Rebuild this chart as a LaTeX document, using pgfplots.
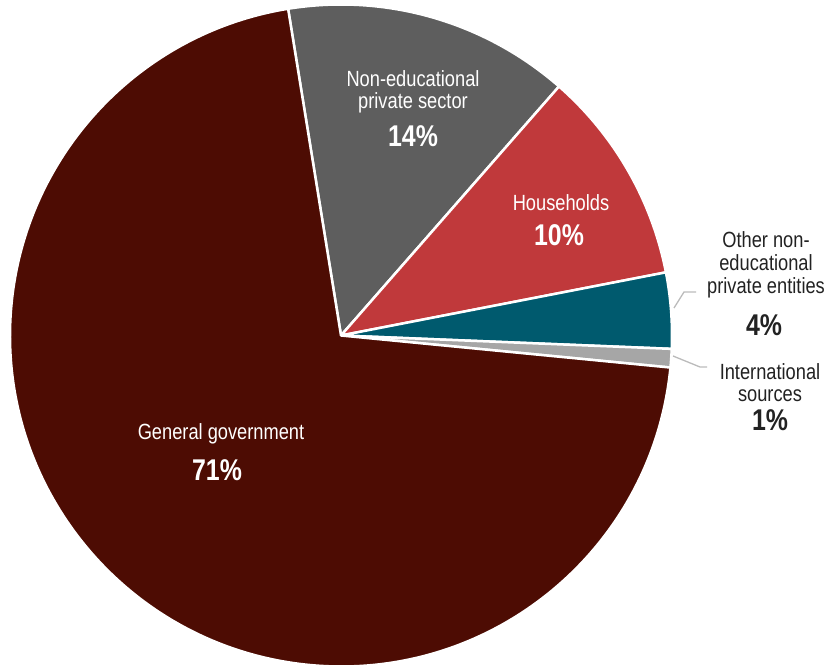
\documentclass[border=0pt]{standalone}
\usepackage{fontspec}
\setmainfont[FakeStretch=0.83]{Liberation Sans}
\usepackage{pgfplots}
\usepackage{pgfplotstable}
\pgfplotsset{compat=1.18}
\definecolor{cgov}{HTML}{4D0C03}
\definecolor{cnon}{HTML}{5E5E5E}
\definecolor{chh}{HTML}{C0393B}
\definecolor{coth}{HTML}{005A6E}
\definecolor{cint}{HTML}{A6A6A6}
\definecolor{ctxt}{HTML}{222222}
\definecolor{cline}{HTML}{BBBBBB}
\pgfplotstableread{
label value color
noned 14.0 cnon
hh 10.5 chh
oth 3.7 coth
intl 0.9 cint
gov 70.9 cgov
}\piedata
\begin{document}
\begin{tikzpicture}
\begin{axis}[x=1pt, y=1pt, xmin=0, xmax=829, ymin=0, ymax=668,
  hide axis, clip=false, scale only axis]
\addplot[draw=none, forget plot] coordinates {(0,0) (829,668)};
\def\startang{99.2}
\pgfplotsforeachungrouped \i in {0,...,4}{
  \pgfplotstablegetelem{\i}{value}\of\piedata \let\v=\pgfplotsretval
  \pgfplotstablegetelem{\i}{color}\of\piedata \let\c=\pgfplotsretval
  \pgfmathsetmacro\endang{\startang - 3.6*\v}
  \edef\temp{\noexpand\fill[\c, draw=white, line width=2.5pt, line join=round] (axis cs:341,332.5) -- ++(\startang:331pt) arc[start angle=\startang, end angle=\endang, radius=331pt] -- cycle;}
  \temp
  \global\let\startang\endang
}
% leader lines
\draw[cline, line width=1.3pt] (axis cs:674,360) -- (axis cs:684,376) -- (axis cs:696,376);
\draw[cline, line width=1.3pt] (axis cs:673,312) -- (axis cs:700,301) -- (axis cs:707,301);
% labels inside
\node[white, align=center, font=\fontsize{22}{22}\selectfont] at (axis cs:413,576) {Non-educational\\private sector};
\node[white, font=\fontsize{30}{30}\selectfont\bfseries] at (axis cs:413,532) {14\%};
\node[white, align=center, font=\fontsize{22}{22}\selectfont] at (axis cs:561,465) {Households};
\node[white, font=\fontsize{30}{30}\selectfont\bfseries] at (axis cs:559,433) {10\%};
\node[white, align=center, font=\fontsize{22}{22}\selectfont] at (axis cs:221,234) {General government};
\node[white, font=\fontsize{30}{30}\selectfont\bfseries] at (axis cs:217,198) {71\%};
% labels outside
\node[ctxt, align=center, font=\fontsize{22}{23}\selectfont] at (axis cs:766,403) {Other non-\\educational\\private entities};
\node[ctxt, font=\fontsize{30}{30}\selectfont\bfseries] at (axis cs:764,343) {4\%};
\node[ctxt, align=center, font=\fontsize{22}{22}\selectfont] at (axis cs:770,285.5) {International\\sources};
\node[ctxt, font=\fontsize{30}{30}\selectfont\bfseries] at (axis cs:770,248) {1\%};
\end{axis}
\pgfresetboundingbox
\useasboundingbox (current axis.south west) rectangle (current axis.north east);
\end{tikzpicture}
\end{document}
